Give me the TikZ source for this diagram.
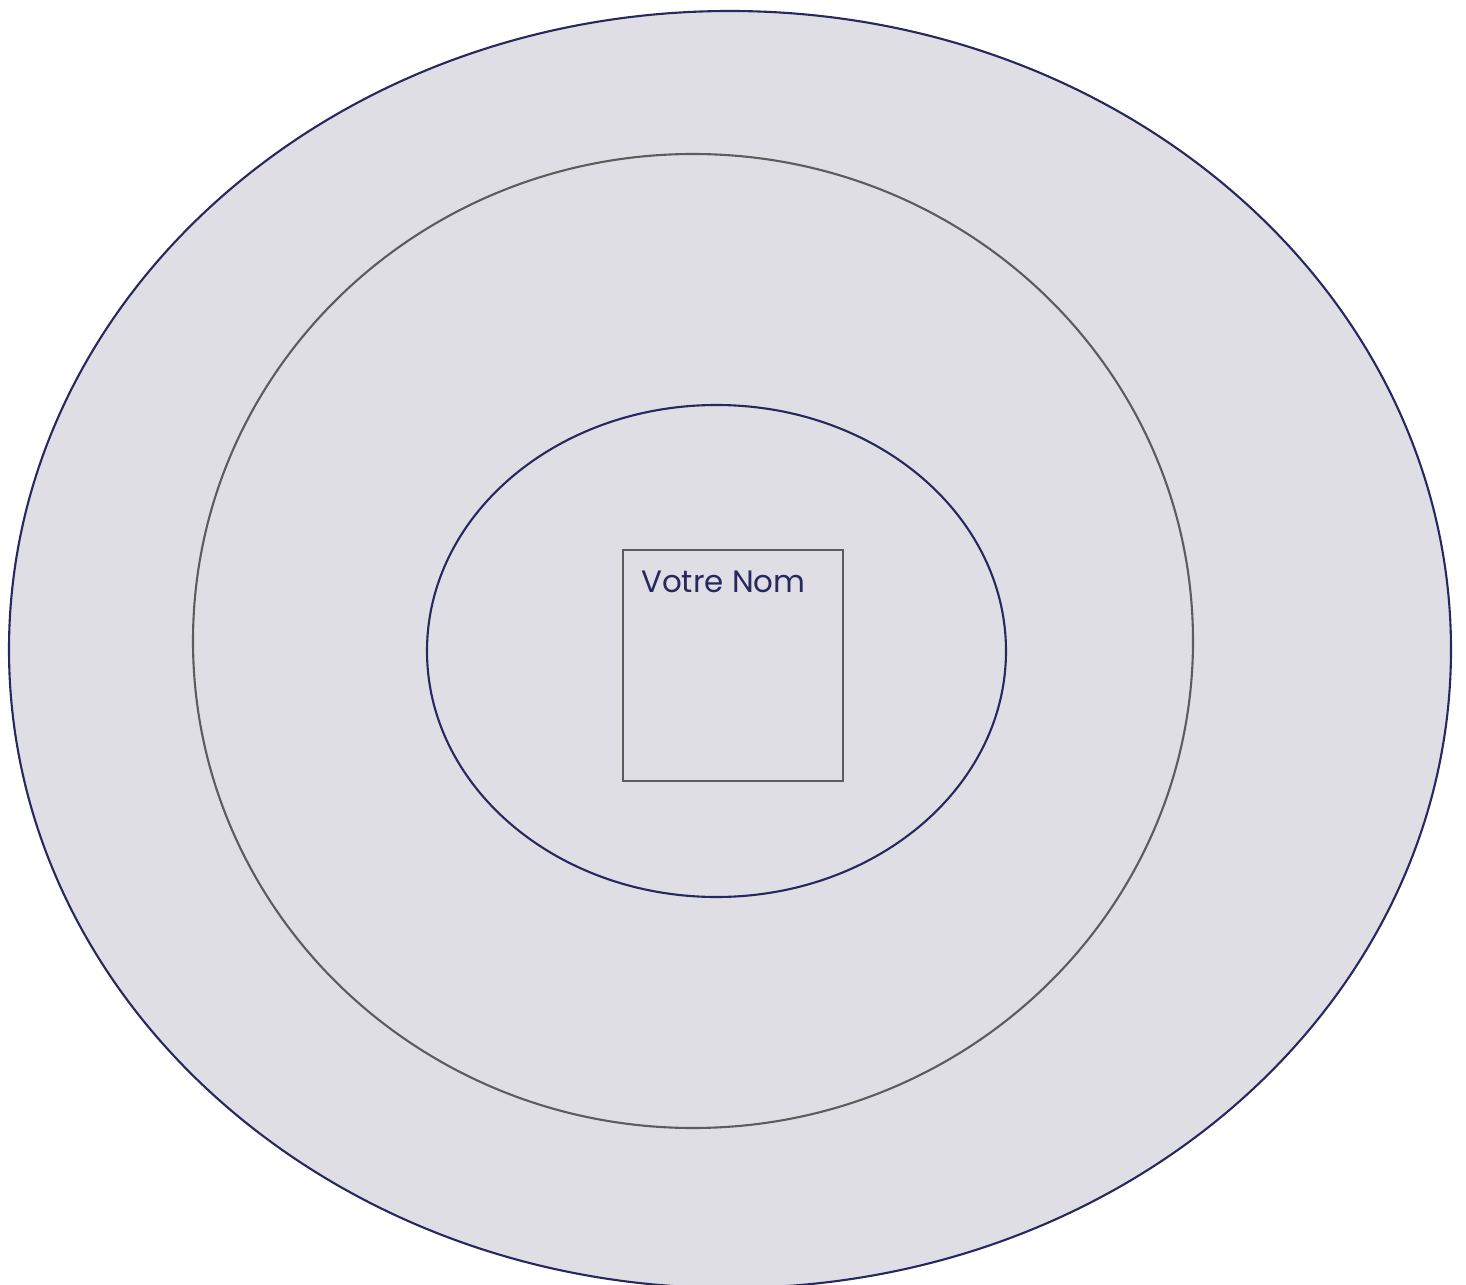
\documentclass[tikz,border=0pt]{standalone}
\usepackage{fontspec}
\setmainfont{Poppins}
\usetikzlibrary{positioning}
\definecolor{ringfill}{HTML}{E0DEE5}
\definecolor{navyline}{HTML}{27285E}
\definecolor{greyline}{HTML}{5C5C5C}
\tikzset{
  outerring/.style={draw=navyline,fill=ringfill,line width=0.6pt},
  midring/.style={draw=greyline,line width=0.6pt},
  innerring/.style={draw=navyline,line width=0.6pt},
  namebox/.style={draw=greyline,line width=0.6pt,minimum width=2.2cm,
    minimum height=2.31cm,inner sep=0pt},
  nametext/.style={text=navyline,font=\fontsize{8.8}{10}\selectfont,inner sep=0pt}
}
\begin{document}
\begin{tikzpicture}
  \useasboundingbox (0,0) rectangle (14.66,-12.85);
  % the three rings
  \draw[outerring] (7.30,-6.495) ellipse (7.21 and 6.385);
  \draw[midring] (6.93,-6.41) ellipse (5.00 and 4.87);
  \draw[innerring] (7.165,-6.51) ellipse (2.895 and 2.46);
  % name card in the middle
  \node[namebox,anchor=north west] (card) at (6.215,-5.49) {};
  \node[nametext,below right=0.21cm and 0.19cm of card.north west] (name) {Votre Nom};
\end{tikzpicture}
\end{document}
